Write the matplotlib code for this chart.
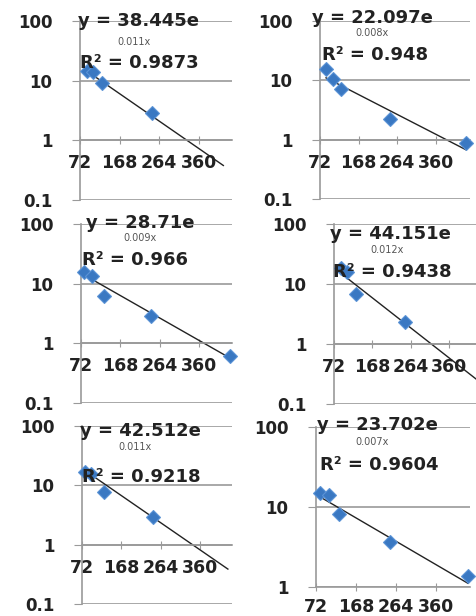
#!/usr/bin/env python3
"""Six small log-scale scatter panels with exponential trendlines (Excel style)."""

import numpy as np
import matplotlib
matplotlib.use("Agg")
import matplotlib.pyplot as plt
from matplotlib.ticker import FixedLocator, FixedFormatter, NullLocator


# ==============================
# Data
# ==============================

X1 = [89, 104, 125, 247]
Y1 = [14.7, 13.9, 9.3, 2.9]
X2 = [87, 104, 124, 247, 436]
Y2 = [15.3, 10.4, 7.1, 2.2, 0.89]
X3 = [79, 99, 128, 243, 436]
Y3 = [15.8, 13.6, 6.3, 2.9, 0.61]
X4 = [89, 104, 127, 249]
Y4 = [18.3, 15.7, 6.9, 2.3]
X5 = [79, 94, 126, 244]
Y5 = [17.1, 15.8, 7.6, 2.9]
X6 = [82, 103, 127, 250, 437]
Y6 = [15.0, 14.1, 8.2, 3.65, 1.37]

# trendline y = a * exp(-b x)
COEF_A = [38.445, 22.097, 28.71, 44.151, 42.512, 23.702]
COEF_B = [0.011, 0.008, 0.009, 0.012, 0.011, 0.007]
A_TEXT = ["38.445", "22.097", "28.71", "44.151", "42.512", "23.702"]
B_TEXT = ["0.011x", "0.008x", "0.009x", "0.012x", "0.011x", "0.007x"]
R2_TEXT = ["0.9873", "0.948", "0.966", "0.9438", "0.9218", "0.9604"]
TREND_X0 = [84, 87, 79, 89, 79, 82]
TREND_X1 = [420, 436, 436, 470, 427, 437]

X_TICKS = [72, 168, 264, 360]
Y_TICKS = [0.1, 1, 10, 100]
Y_TICK_LABELS = ["0.1", "1", "10", "100"]


# ==============================
# Layout (pixels)
# ==============================

W, H = 477, 616
# left, right, top (y=100), bottom (y=min)
BOXES = [
    (80, 232, 21, 200),
    (320, 470, 21, 199),
    (81, 232, 224, 403),
    (334, 487, 224, 404),
    (82, 232, 426, 604),
    (316, 470, 427, 587),
]
X_MAX = [441, 446, 441, 455, 437, 442]
Y_MIN = [0.1, 0.1, 0.1, 0.1, 0.1, 1]
X_PAD = [7, 7, 7, 7, 7, 5]
# eq x, eq y, exponent x, exponent y, r2 x, r2 y
LABEL_POS = [
    (78, 21, 117, 42, 80, 63),
    (312, 18, 355, 33, 322, 55),
    (86, 223, 123, 238, 82, 260),
    (330, 234, 370, 250, 333, 272),
    (80, 431, 118, 447, 82, 477),
    (317, 425, 355, 442, 320, 465),
]

GRID = "#9a9a9a"
BLUE = "#3a78c2"
TEXT = "#222222"


def px(x, y):
    return x / W, 1 - y / H


def draw_panel(fig, i, xs, ys):
    l, r, t, b = BOXES[i]
    ax = fig.add_axes([l / W, 1 - b / H, (r - l) / W, (b - t) / H])
    ax.set_yscale("log")
    ax.set_xlim(72, X_MAX[i])
    ax.set_ylim(Y_MIN[i], 100)

    ax.yaxis.set_major_locator(FixedLocator(Y_TICKS))
    ax.yaxis.set_major_formatter(FixedFormatter(Y_TICK_LABELS))
    ax.yaxis.set_minor_locator(NullLocator())
    ax.xaxis.set_major_locator(FixedLocator(X_TICKS))
    ax.xaxis.set_minor_locator(NullLocator())

    for side in ("top", "right"):
        ax.spines[side].set_visible(False)
    ax.spines["left"].set_color(GRID)
    ax.spines["left"].set_linewidth(1.2)
    ax.spines["bottom"].set_position(("data", 1))
    ax.spines["bottom"].set_color(GRID)
    ax.spines["bottom"].set_linewidth(1.2)

    ax.grid(axis="y", color=GRID, linewidth=1.2)
    ax.set_axisbelow(True)
    ax.tick_params(axis="y", length=6, color=GRID, pad=14,
                   labelsize=12, labelcolor=TEXT)
    ax.tick_params(axis="x", direction="inout", length=6, color=GRID,
                   pad=X_PAD[i], labelsize=12.5, labelcolor=TEXT)
    for lab in ax.get_xticklabels() + ax.get_yticklabels():
        lab.set_fontweight("bold")

    # exponential trendline
    tx = np.linspace(TREND_X0[i], TREND_X1[i], 100)
    ax.plot(tx, COEF_A[i] * np.exp(-COEF_B[i] * tx), color="#222222",
            linewidth=1.0, zorder=2)
    ax.plot(xs, ys, linestyle="none", marker="D", markersize=7,
            markerfacecolor=BLUE, markeredgecolor="#5b93d6",
            markeredgewidth=0.8, zorder=3, clip_on=False)

    ex, ey, bx, by, rx, ry = LABEL_POS[i]
    fig.text(*px(ex, ey), f"y = {A_TEXT[i]}e", fontsize=13,
             fontweight="bold", color=TEXT, va="center", ha="left")
    fig.text(*px(bx, by), B_TEXT[i], fontsize=7, color="#555555",
             va="center", ha="left")
    fig.text(*px(rx, ry), f"R² = {R2_TEXT[i]}", fontsize=13,
             fontweight="bold", color=TEXT, va="center", ha="left")
    return ax


def main():
    fig = plt.figure(figsize=(W / 100, H / 100), dpi=100)
    panels = [(X1, Y1), (X2, Y2), (X3, Y3), (X4, Y4), (X5, Y5), (X6, Y6)]
    for i, (xs, ys) in enumerate(panels):
        draw_panel(fig, i, xs, ys)
    fig.savefig("out.png", dpi=100)


if __name__ == "__main__":
    main()
